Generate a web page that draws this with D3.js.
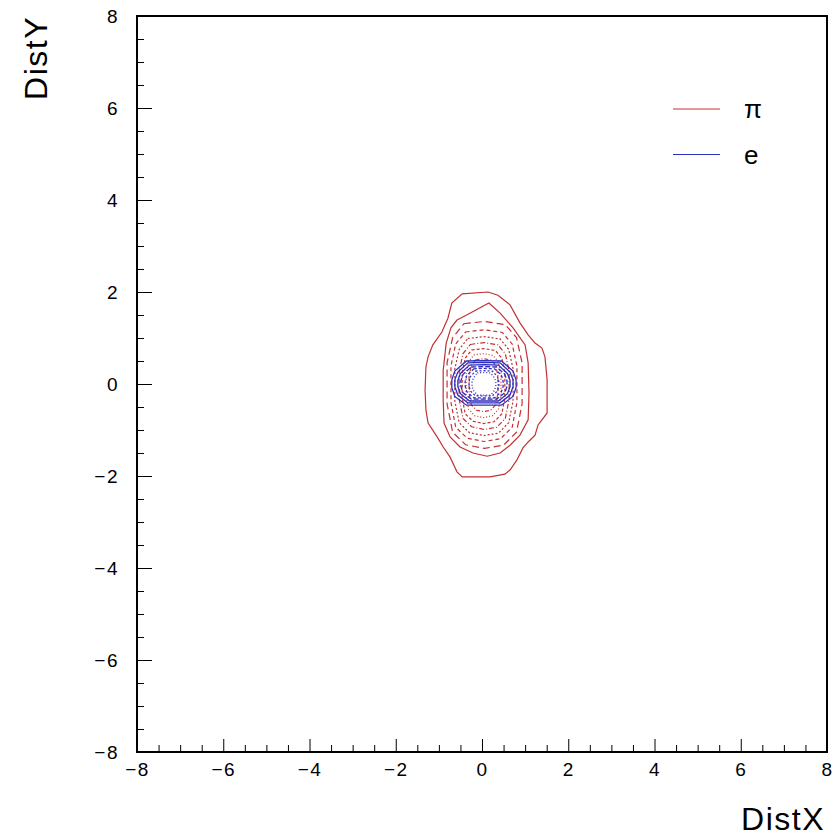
<!DOCTYPE html>
<html>
<head>
<meta charset="utf-8">
<script src="https://cdn.jsdelivr.net/npm/d3@7"></script>
<style>
  html, body { margin: 0; padding: 0; background: #fff; }
  svg { display: block; }
  text { font-family: "Liberation Sans", Arial, sans-serif; fill: #000; }
</style>
</head>
<body>
<svg id="chart" width="837" height="838"></svg>
<script>
// Axis ranges and tick labels
const xDomain = [-8, 8];
const yDomain = [-8, 8];
const xMajorTicks = [-8, -6, -4, -2, 0, 2, 4, 6, 8];
const yMajorTicks = [-8, -6, -4, -2, 0, 2, 4, 6, 8];
const minorStep = 0.5;

const xTitle = "DistX";
const yTitle = "DistY";

// Legend entries
const legendLabels = ["π", "e"];
const legendColors = ["#c23232", "#2d2dbe"];

// Pion contour levels (outermost first), points as [DistX, DistY]
const piContours = [
  [[-0.46,1.96],[0.14,2.00],[0.37,1.93],[0.65,1.72],[0.88,1.33],[1.07,1.07],[1.23,0.89],[1.39,0.78],[1.46,0.59],[1.51,0.09],[1.51,-0.63],[1.39,-0.78],[1.30,-0.89],[1.23,-1.11],[1.07,-1.26],[0.95,-1.39],[0.81,-1.65],[0.65,-1.87],[0.53,-1.96],[0.19,-2.02],[-0.46,-2.02],[-0.58,-1.91],[-0.74,-1.59],[-0.90,-1.37],[-1.04,-1.15],[-1.25,-0.85],[-1.30,-0.57],[-1.32,-0.13],[-1.30,0.37],[-1.25,0.59],[-1.14,0.85],[-0.93,1.13],[-0.79,1.43],[-0.70,1.76]],
  [[-0.58,1.39],[-0.28,1.54],[0.16,1.76],[0.42,1.54],[0.72,1.22],[1.00,0.85],[1.07,0.46],[1.09,-0.20],[1.07,-0.78],[0.88,-1.11],[0.65,-1.33],[0.42,-1.50],[0.12,-1.57],[-0.21,-1.50],[-0.51,-1.37],[-0.74,-1.15],[-0.88,-0.85],[-0.90,-0.35],[-0.90,0.30],[-0.83,0.89],[-0.72,1.22]],
  [[-0.42,1.31],[0.06,1.36],[0.54,1.29],[0.80,1.01],[0.93,0.46],[0.93,-0.43],[0.80,-1.05],[0.50,-1.33],[0.06,-1.40],[-0.38,-1.32],[-0.68,-1.05],[-0.81,-0.43],[-0.81,0.46],[-0.68,1.01]],
  [[-0.38,1.13],[0.05,1.18],[0.47,1.12],[0.70,0.87],[0.81,0.39],[0.81,-0.40],[0.70,-0.94],[0.43,-1.19],[0.05,-1.25],[-0.34,-1.18],[-0.61,-0.94],[-0.72,-0.40],[-0.72,0.39],[-0.61,0.87]],
  [[-0.33,0.99],[0.05,1.03],[0.42,0.98],[0.62,0.75],[0.72,0.33],[0.72,-0.37],[0.62,-0.84],[0.38,-1.07],[0.05,-1.12],[-0.29,-1.06],[-0.53,-0.84],[-0.63,-0.37],[-0.63,0.33],[-0.53,0.75]],
  [[-0.27,0.86],[0.05,0.90],[0.37,0.85],[0.54,0.66],[0.63,0.28],[0.63,-0.33],[0.54,-0.75],[0.34,-0.94],[0.05,-0.99],[-0.24,-0.93],[-0.44,-0.75],[-0.53,-0.33],[-0.53,0.28],[-0.44,0.66]],
  [[-0.24,0.74],[0.04,0.77],[0.31,0.73],[0.46,0.56],[0.53,0.24],[0.53,-0.29],[0.46,-0.65],[0.28,-0.82],[0.04,-0.86],[-0.21,-0.81],[-0.39,-0.65],[-0.46,-0.29],[-0.46,0.24],[-0.39,0.56]],
  [[-0.19,0.63],[0.04,0.66],[0.26,0.62],[0.38,0.48],[0.44,0.21],[0.44,-0.24],[0.38,-0.55],[0.24,-0.69],[0.04,-0.73],[-0.17,-0.69],[-0.31,-0.55],[-0.37,-0.24],[-0.37,0.21],[-0.31,0.48]],
  [[-0.15,0.52],[0.04,0.55],[0.22,0.52],[0.32,0.40],[0.37,0.17],[0.37,-0.20],[0.32,-0.45],[0.20,-0.57],[0.04,-0.60],[-0.13,-0.57],[-0.25,-0.45],[-0.30,-0.20],[-0.30,0.17],[-0.25,0.40]]
];

// Electron contour levels (outermost first)
const eContours = [
  [[-0.36,0.50],[0.05,0.51],[0.45,0.50],[0.72,0.28],[0.79,0.09],[0.79,-0.08],[0.72,-0.27],[0.45,-0.46],[-0.36,-0.46],[-0.63,-0.27],[-0.70,-0.08],[-0.70,0.09],[-0.63,0.28]],
  [[-0.33,0.46],[0.05,0.47],[0.42,0.46],[0.65,0.26],[0.72,0.09],[0.72,-0.06],[0.65,-0.24],[0.42,-0.41],[-0.33,-0.41],[-0.56,-0.24],[-0.63,-0.06],[-0.63,0.09],[-0.56,0.26]],
  [[-0.29,0.41],[0.05,0.42],[0.38,0.41],[0.59,0.23],[0.65,0.08],[0.65,-0.06],[0.59,-0.21],[0.38,-0.37],[-0.29,-0.37],[-0.50,-0.21],[-0.56,-0.06],[-0.56,0.08],[-0.50,0.23]],
  [[-0.25,0.37],[0.05,0.38],[0.34,0.37],[0.53,0.21],[0.58,0.07],[0.58,-0.05],[0.53,-0.19],[0.34,-0.33],[-0.25,-0.33],[-0.44,-0.19],[-0.49,-0.05],[-0.49,0.07],[-0.44,0.21]],
  [[-0.19,0.33],[0.05,0.34],[0.29,0.33],[0.45,0.19],[0.49,0.06],[0.49,-0.05],[0.45,-0.17],[0.29,-0.30],[-0.19,-0.30],[-0.35,-0.17],[-0.39,-0.05],[-0.39,0.06],[-0.35,0.19]],
  [[-0.15,0.28],[0.05,0.29],[0.24,0.28],[0.36,0.16],[0.39,0.05],[0.39,-0.04],[0.36,-0.15],[0.24,-0.26],[-0.15,-0.26],[-0.27,-0.15],[-0.30,-0.04],[-0.30,0.05],[-0.27,0.16]],
  [[-0.11,0.24],[0.05,0.25],[0.20,0.24],[0.29,0.13],[0.32,0.04],[0.32,-0.05],[0.29,-0.14],[0.20,-0.24],[-0.11,-0.24],[-0.20,-0.14],[-0.23,-0.05],[-0.23,0.04],[-0.20,0.13]]
];

// Line style per contour level (one style per level, like CONT1)
const piDashes = ["", "", "7,4", "4,3", "2,2", "5,2,1,2", "3,2", "1,2", "4,2,1,2"];
const eDashes = ["", "", "", "5,2", "3,2", "2,2", "1,2"];

const svg = d3.select("#chart");
const W = 837, H = 838;
const frame = { left: 137, right: 827, top: 16, bottom: 752 };

svg.append("rect").attr("width", W).attr("height", H).attr("fill", "#fff");

const x = d3.scaleLinear().domain(xDomain).range([frame.left, frame.right]);
const y = d3.scaleLinear().domain(yDomain).range([frame.bottom, frame.top]);

const minorX = d3.range(xDomain[0], xDomain[1] + 1e-9, minorStep).filter(v => !xMajorTicks.includes(v));
const minorY = d3.range(yDomain[0], yDomain[1] + 1e-9, minorStep).filter(v => !yMajorTicks.includes(v));

// Contours
const line = d3.line().x(d => x(d[0])).y(d => y(d[1])).curve(d3.curveLinearClosed);

const gPi = svg.append("g");
gPi.selectAll("path").data(piContours).join("path")
  .attr("d", line)
  .attr("fill", "none")
  .attr("stroke", legendColors[0])
  .attr("stroke-width", 1.2)
  .attr("stroke-dasharray", (d, i) => piDashes[i] || null);

const gE = svg.append("g");
gE.selectAll("path").data(eContours).join("path")
  .attr("d", line)
  .attr("fill", "none")
  .attr("stroke", legendColors[1])
  .attr("stroke-width", 1.3)
  .attr("stroke-dasharray", (d, i) => eDashes[i] || null);

// Axes: ticks drawn inward from the bottom and left frame edges
const fmt = d => d3.format("d")(d);

const xMinor = svg.append("g").attr("transform", `translate(0,${frame.bottom})`)
  .call(d3.axisBottom(x).tickValues(minorX).tickSize(-7).tickFormat(""));
const xMajor = svg.append("g").attr("transform", `translate(0,${frame.bottom})`)
  .call(d3.axisBottom(x).tickValues(xMajorTicks).tickSize(-13).tickPadding(11).tickFormat(fmt));
const yMinor = svg.append("g").attr("transform", `translate(${frame.left},0)`)
  .call(d3.axisLeft(y).tickValues(minorY).tickSize(-7).tickFormat(""));
const yMajor = svg.append("g").attr("transform", `translate(${frame.left},0)`)
  .call(d3.axisLeft(y).tickValues(yMajorTicks).tickSize(-15).tickPadding(18).tickFormat(fmt));

[xMinor, xMajor, yMinor, yMajor].forEach(g => {
  g.select(".domain").remove();
  g.selectAll("line").attr("stroke", "#000").attr("stroke-width", 1);
  g.selectAll("text").attr("font-size", 19).attr("letter-spacing", 1.5)
    .attr("font-family", "Liberation Sans, Arial, sans-serif").attr("fill", "#000");
});

// Frame
svg.append("rect")
  .attr("x", frame.left).attr("y", frame.top)
  .attr("width", frame.right - frame.left).attr("height", frame.bottom - frame.top)
  .attr("fill", "none").attr("stroke", "#000").attr("stroke-width", 2);

// Axis titles
svg.append("text")
  .attr("x", 825).attr("y", 830)
  .attr("text-anchor", "end")
  .attr("font-size", 32)
  .attr("letter-spacing", 1.5)
  .text(xTitle);

svg.append("text")
  .attr("transform", "translate(47,16) rotate(-90)")
  .attr("text-anchor", "end")
  .attr("font-size", 32)
  .attr("letter-spacing", 1.5)
  .text(yTitle);

// Legend
const legend = svg.append("g");
const legendRows = legendLabels.map((label, i) => ({ label, color: legendColors[i], yPos: 109 + i * 45.5 }));
legend.selectAll("line").data(legendRows).join("line")
  .attr("x1", 673).attr("x2", 720)
  .attr("y1", d => d.yPos).attr("y2", d => d.yPos)
  .attr("stroke", d => d.color).attr("stroke-width", 1.2);
legend.selectAll("text").data(legendRows).join("text")
  .attr("x", 744).attr("y", d => d.yPos + 9)
  .attr("font-size", 26)
  .text(d => d.label);
</script>
</body>
</html>
